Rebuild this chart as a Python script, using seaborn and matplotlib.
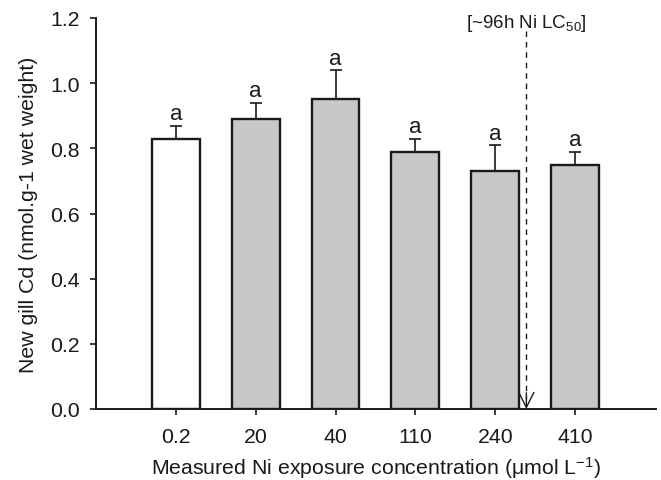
import matplotlib
matplotlib.use("Agg")
import matplotlib.pyplot as plt
import seaborn as sns
import pandas as pd

# ---- data ----
categories = ["0.2", "20", "40", "110", "240", "410"]
means = [0.83, 0.89, 0.95, 0.79, 0.73, 0.75]
sem_upper = [0.04, 0.05, 0.09, 0.04, 0.08, 0.04]
letters = ["a", "a", "a", "a", "a", "a"]
bar_colors = ["#ffffff", "#c8c8ca", "#c8c8ca", "#c8c8ca", "#c8c8ca", "#c8c8ca"]
yticks = [0.0, 0.2, 0.4, 0.6, 0.8, 1.0, 1.2]
lc50_pos = 4.39

sns.set_theme(style="ticks")
plt.rcParams["font.family"] = ["Liberation Sans", "DejaVu Sans"]
plt.rcParams["mathtext.fontset"] = "custom"
plt.rcParams["mathtext.rm"] = "Liberation Sans"
plt.rcParams["mathtext.it"] = "Liberation Sans:italic"
plt.rcParams["mathtext.bf"] = "Liberation Sans:bold"

df = pd.DataFrame({"conc": categories, "val": means})

fig = plt.figure(figsize=(6.61, 4.81), dpi=100)
ax = fig.add_axes([96 / 661, 71 / 481, 559.7 / 661, 391 / 481])

sns.barplot(data=df, x="conc", y="val", order=categories, hue="conc",
            palette=bar_colors, legend=False, width=0.6, errorbar=None,
            edgecolor="#1a1a1a", linewidth=1.7, ax=ax, zorder=3)

xpos = list(range(len(categories)))
ax.errorbar(xpos, means, yerr=[[0] * len(means), sem_upper], fmt="none",
            ecolor="#1a1a1a", elinewidth=1.2, capsize=4.5, capthick=1.2, zorder=2)

for x, m, e, t in zip(xpos, means, sem_upper, letters):
    ax.annotate(t, xy=(x, m + e), xytext=(0, 1.0), textcoords="offset points",
                ha="center", va="bottom", fontsize=16, color="#1a1a1a")

# LC50 marker
ax.plot([lc50_pos, lc50_pos], [1.16, 0.03], color="#1a1a1a", lw=1.0,
        dashes=(4, 3.5), zorder=4, clip_on=False)
ax.annotate("", xy=(lc50_pos, 0.0), xytext=(lc50_pos, 0.05),
            arrowprops=dict(arrowstyle="->,head_length=0.9,head_width=0.45",
                            color="#1a1a1a", lw=1.0, shrinkA=0, shrinkB=0),
            zorder=4)
ax.text(lc50_pos, 1.172, "[~96h Ni LC$_{50}$]", ha="center", va="baseline",
        fontsize=13.5, color="#1a1a1a", clip_on=False)

ax.set_xlim(-1.0, 6.01)
ax.set_ylim(0, 1.2)
ax.set_yticks(yticks)
ax.set_yticklabels([f"{v:.1f}" for v in yticks])

for s in ["top", "right"]:
    ax.spines[s].set_visible(False)
for s in ["left", "bottom"]:
    ax.spines[s].set_color("#1a1a1a")
    ax.spines[s].set_linewidth(1.4)

ax.tick_params(axis="both", direction="out", color="#1a1a1a", width=1.2,
               labelsize=15.3, labelcolor="#1a1a1a")
ax.tick_params(axis="y", length=4.5, pad=7)
ax.tick_params(axis="x", length=4.5, pad=8.5)

ax.set_ylabel("New gill Cd (nmol.g-1 wet weight)", fontsize=15.3, color="#1a1a1a")
ax.yaxis.set_label_coords(-0.104, 0.5)
ax.set_xlabel("Measured Ni exposure concentration (\u03bcmol L$^{-1}$)",
              fontsize=15.3, color="#1a1a1a")
ax.xaxis.set_label_coords(0.5, -0.115)

fig.savefig("out.png", dpi=100)
